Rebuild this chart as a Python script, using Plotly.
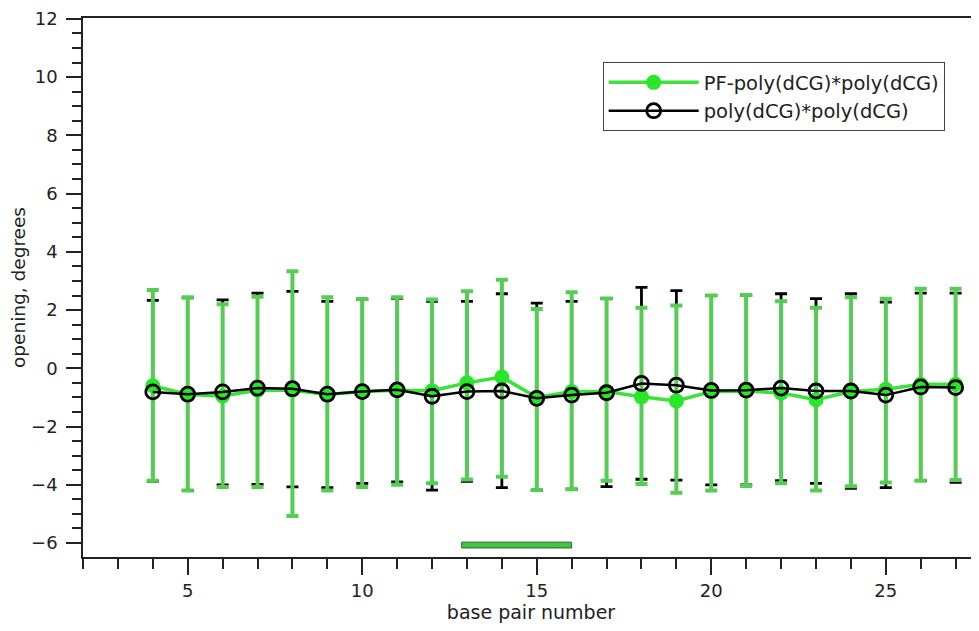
import plotly.graph_objects as go

base_pairs = list(range(4, 28))

pf_mean = [-0.6, -0.9, -0.95, -0.75, -0.75, -0.9, -0.8, -0.75, -0.77, -0.5, -0.3, -1.0,
           -0.8, -0.8, -0.98, -1.12, -0.8, -0.78, -0.85, -1.08, -0.8, -0.72, -0.55, -0.55]
pf_upper = [2.69, 2.44, 2.2, 2.46, 3.33, 2.44, 2.38, 2.44, 2.36, 2.65, 3.04, 2.04,
            2.61, 2.4, 2.08, 2.16, 2.5, 2.52, 2.3, 2.08, 2.44, 2.39, 2.73, 2.73]
pf_lower = [-3.86, -4.2, -4.08, -4.08, -5.07, -4.2, -4.08, -4.0, -3.95, -3.82, -3.72, -4.18,
            -4.15, -3.86, -3.97, -4.27, -4.2, -4.04, -3.95, -4.2, -4.05, -3.92, -3.86, -3.84]

poly_mean = [-0.81, -0.89, -0.81, -0.68, -0.7, -0.89, -0.8, -0.74, -0.96, -0.8, -0.78, -1.03,
             -0.92, -0.84, -0.52, -0.58, -0.76, -0.75, -0.68, -0.78, -0.78, -0.92, -0.64, -0.66]
poly_upper = [2.33, 2.42, 2.35, 2.58, 2.64, 2.3, 2.36, 2.4, 2.3, 2.3, 2.56, 2.24,
              2.3, 2.4, 2.78, 2.67, 2.5, 2.5, 2.56, 2.39, 2.56, 2.27, 2.58, 2.58]
poly_lower = [-3.88, -4.2, -4.0, -3.99, -4.07, -4.1, -3.95, -3.9, -4.18, -3.88, -4.1, -4.2,
              -4.15, -4.06, -3.81, -3.84, -4.0, -4.0, -3.86, -3.95, -4.12, -4.1, -3.86, -3.92]

series_names = ["PF-poly(dCG)*poly(dCG)", "poly(dCG)*poly(dCG)"]
highlight_x = [12.85, 16.0]
highlight_y = [-6.17, -5.97]

x_title = "base pair number"
y_title = "opening, degrees"

FONT = "DejaVu Sans"
GREEN_LINE = "rgb(60,225,60)"
GREEN_ERR = "rgb(85,205,85)"
AXIS = "#222"

def err(mean, upper, lower):
    plus = [u - m for u, m in zip(upper, mean)]
    minus = [m - l for m, l in zip(mean, lower)]
    return plus, minus

pf_plus, pf_minus = err(pf_mean, pf_upper, pf_lower)
poly_plus, poly_minus = err(poly_mean, poly_upper, poly_lower)

fig = go.Figure()

# black error bars (drawn beneath green)
fig.add_trace(go.Scatter(
    x=base_pairs, y=poly_mean, mode="markers",
    marker=dict(size=1, color="rgba(0,0,0,0)"),
    error_y=dict(type="data", symmetric=False, array=poly_plus, arrayminus=poly_minus,
                 color="black", thickness=2.8, width=6),
    showlegend=False, hoverinfo="skip"))

fig.add_trace(go.Scatter(
    x=base_pairs, y=pf_mean, mode="lines+markers", name=series_names[0],
    line=dict(color=GREEN_LINE, width=3.5),
    marker=dict(size=15, color="rgb(40,230,40)", line=dict(width=0)),
    error_y=dict(type="data", symmetric=False, array=pf_plus, arrayminus=pf_minus,
                 color=GREEN_ERR, thickness=4, width=6)))

fig.add_trace(go.Scatter(
    x=base_pairs, y=poly_mean, mode="lines+markers", name=series_names[1],
    line=dict(color="black", width=2.5),
    marker=dict(size=14, color="black", symbol="circle-open",
                line=dict(color="black", width=2.8))))

fig.add_shape(type="rect", x0=highlight_x[0], x1=highlight_x[1],
              y0=highlight_y[0], y1=highlight_y[1], xref="x", yref="y",
              fillcolor="rgb(70,195,70)", line=dict(color="rgb(30,110,30)", width=1))

fig.update_layout(
    width=971, height=623,
    margin=dict(l=75, r=0, t=10, b=74),
    paper_bgcolor="white", plot_bgcolor="white",
    font=dict(family=FONT, size=18, color=AXIS),
    showlegend=True,
    legend=dict(x=0.58, y=0.918, xanchor="left", yanchor="top",
                bgcolor="white", bordercolor="#444", borderwidth=1,
                font=dict(family=FONT, size=19.5, color=AXIS),
                tracegroupgap=0, itemwidth=90),
    xaxis=dict(range=[2, 27.67], showgrid=False, zeroline=False,
               showline=True, linecolor=AXIS, linewidth=1.5, mirror=True,
               ticks="outside", ticklen=16, tickwidth=1.5, tickcolor=AXIS,
               tick0=0, dtick=5, ticklabelstandoff=1,
               minor=dict(ticks="outside", ticklen=10, tickwidth=1.5, tickcolor=AXIS,
                          tick0=0, dtick=1, showgrid=False),
               title=dict(text=x_title, font=dict(size=19), standoff=5),
               tickfont=dict(size=18)),
    yaxis=dict(range=[-6.48, 12.03], showgrid=False, zeroline=False,
               showline=True, linecolor=AXIS, linewidth=1.5,
               ticks="outside", ticklen=15, tickwidth=1.5, tickcolor=AXIS,
               tick0=0, dtick=2, ticklabelstandoff=5,
               minor=dict(ticks="outside", ticklen=9, tickwidth=1.5, tickcolor=AXIS,
                          tick0=0, dtick=0.5, showgrid=False),
               title=dict(text=y_title, font=dict(size=18.5), standoff=4),
               tickfont=dict(size=18)),
)

fig.write_html("out.html")
